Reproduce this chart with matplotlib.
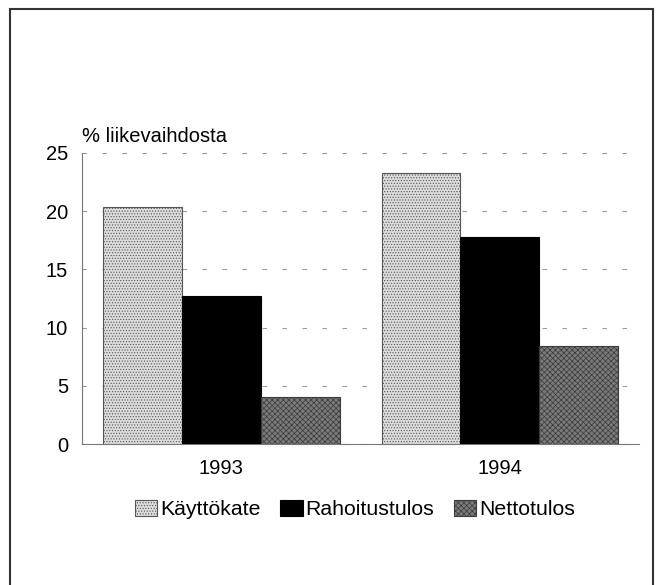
import numpy as np
import matplotlib.pyplot as plt
from matplotlib.patches import Rectangle

plt.rcParams['font.family'] = ['Liberation Sans', 'DejaVu Sans']
plt.rcParams['hatch.linewidth'] = 0.5

years = ['1993', '1994']
series = ['Käyttökate', 'Rahoitustulos', 'Nettotulos']
kayttokate = [20.4, 23.3]
rahoitustulos = [12.7, 17.8]
nettotulos = [4.0, 8.4]
yticks = [0, 5, 10, 15, 20, 25]

fig = plt.figure(figsize=(6.59, 5.85), dpi=100)
ax = fig.add_axes([0.1244, 0.241, 0.8456, 0.4975])

# outer frame round the whole chart
fig.patches.append(Rectangle((10/659, -0.02), 643/659, 1 - 9/585 + 0.02,
                             transform=fig.transFigure, fill=False,
                             edgecolor='#333333', linewidth=1.5))

x = np.arange(len(years))
w = 0.283
styles = [
    dict(color='#dcdcdc', hatch='......', edgecolor='#555555'),
    dict(color='black', hatch=None, edgecolor='black'),
    dict(color='#7a7a7a', hatch='xxxxxx', edgecolor='#3a3a3a'),
]
for i, (vals, name) in enumerate(zip([kayttokate, rahoitustulos, nettotulos], series)):
    st = styles[i]
    ax.bar(x + (i - 1) * w, vals, w, facecolor=st['color'], hatch=st['hatch'],
           edgecolor=st['edgecolor'], linewidth=0.8, label=name, zorder=3)

ax.set_xlim(-0.5, 1.5)
ax.set_ylim(0, 25)
ax.set_yticks(yticks)
ax.set_xticks(x)
ax.set_xticklabels(years)
ax.tick_params(axis='both', length=0, labelsize=14.5)
ax.tick_params(axis='x', pad=11)
ax.tick_params(axis='y', pad=10)
ax.yaxis.grid(True, linestyle=(0, (4, 14)), color='#999999', linewidth=0.8)
ax.set_axisbelow(True)
for s in ['top', 'right']:
    ax.spines[s].set_visible(False)
ax.spines['left'].set_color('#777777')
ax.spines['bottom'].set_color('#777777')
ax.spines['left'].set_linewidth(0.8)
ax.spines['bottom'].set_linewidth(0.8)

ax.text(0.0, 1.025, '% liikevaihdosta', transform=ax.transAxes, fontsize=14.5,
        ha='left', va='bottom')

ax.legend(loc='upper center', bbox_to_anchor=(0.49, -0.125), ncol=3, frameon=False,
          fontsize=15.3, handlelength=1.05, handleheight=0.85, handletextpad=0.15,
          columnspacing=0.9)

fig.savefig('out.png', dpi=100)
